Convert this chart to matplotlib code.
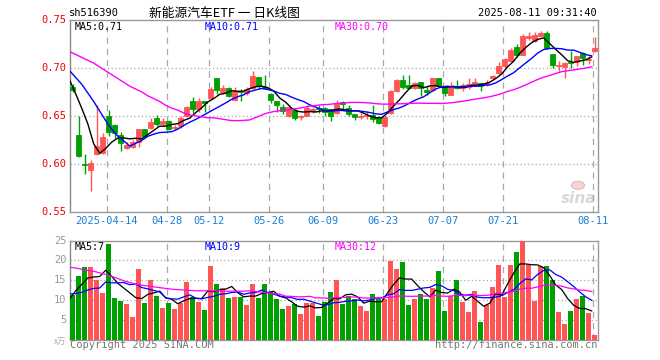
import matplotlib
matplotlib.use('Agg')
import matplotlib.pyplot as plt
from matplotlib.patches import Ellipse
import numpy as np

# ---------------- data ----------------
opens = [0.680, 0.630, 0.5995, 0.594, 0.610, 0.611, 0.650, 0.640, 0.630, 0.616,
         0.618, 0.623, 0.636, 0.637, 0.648, 0.642, 0.645, 0.637, 0.639, 0.650,
         0.666, 0.657, 0.665, 0.669, 0.689, 0.675, 0.679, 0.667, 0.676, 0.674,
         0.679, 0.691, 0.680, 0.673, 0.665, 0.659, 0.650, 0.656, 0.649, 0.650,
         0.655, 0.658, 0.658, 0.657, 0.653, 0.664, 0.658, 0.652, 0.649, 0.6496,
         0.651, 0.649, 0.639, 0.653, 0.676, 0.687, 0.682, 0.679, 0.685, 0.677,
         0.677, 0.689, 0.681, 0.672, 0.681, 0.679, 0.680, 0.683, 0.684, 0.683,
         0.689, 0.695, 0.702, 0.707, 0.722, 0.714, 0.7317, 0.728, 0.7335, 0.736,
         0.715, 0.7025, 0.701, 0.706, 0.706, 0.716, 0.708, 0.718]
highs = [0.683, 0.650, 0.610, 0.604, 0.661, 0.632, 0.656, 0.641, 0.633, 0.623,
         0.625, 0.636, 0.636, 0.648, 0.651, 0.648, 0.646, 0.640, 0.650, 0.660,
         0.670, 0.669, 0.666, 0.680, 0.689, 0.682, 0.680, 0.680, 0.678, 0.680,
         0.697, 0.691, 0.693, 0.674, 0.665, 0.662, 0.661, 0.657, 0.651, 0.661,
         0.659, 0.661, 0.659, 0.657, 0.667, 0.665, 0.661, 0.652, 0.653, 0.655,
         0.661, 0.650, 0.651, 0.677, 0.688, 0.693, 0.693, 0.685, 0.685, 0.681,
         0.690, 0.689, 0.681, 0.685, 0.687, 0.684, 0.690, 0.690, 0.684, 0.687,
         0.693, 0.706, 0.710, 0.721, 0.725, 0.735, 0.737, 0.737, 0.739, 0.739,
         0.715, 0.707, 0.706, 0.718, 0.7125, 0.7165, 0.7125, 0.732]
lows = [0.675, 0.607, 0.589, 0.572, 0.609, 0.610, 0.629, 0.627, 0.613, 0.615,
        0.616, 0.618, 0.628, 0.636, 0.639, 0.639, 0.635, 0.635, 0.637, 0.649,
        0.653, 0.654, 0.654, 0.668, 0.673, 0.673, 0.670, 0.666, 0.666, 0.672,
        0.678, 0.678, 0.678, 0.663, 0.654, 0.652, 0.649, 0.646, 0.646, 0.650,
        0.653, 0.653, 0.650, 0.645, 0.652, 0.657, 0.650, 0.646, 0.647, 0.647,
        0.644, 0.642, 0.638, 0.652, 0.675, 0.678, 0.678, 0.678, 0.671, 0.672,
        0.676, 0.680, 0.671, 0.672, 0.678, 0.676, 0.678, 0.681, 0.676, 0.681,
        0.688, 0.693, 0.700, 0.706, 0.711, 0.713, 0.729, 0.727, 0.733, 0.720,
        0.700, 0.697, 0.689, 0.700, 0.702, 0.703, 0.704, 0.717]
closes = [0.677, 0.608, 0.599, 0.601, 0.619, 0.628, 0.633, 0.632, 0.622, 0.620,
          0.623, 0.636, 0.629, 0.644, 0.642, 0.645, 0.636, 0.638, 0.648, 0.659,
          0.657, 0.665, 0.663, 0.678, 0.677, 0.679, 0.671, 0.676, 0.675, 0.678,
          0.692, 0.681, 0.679, 0.667, 0.661, 0.655, 0.659, 0.648, 0.650, 0.658,
          0.657, 0.657, 0.654, 0.650, 0.663, 0.662, 0.652, 0.649, 0.6500, 0.651,
          0.647, 0.643, 0.649, 0.676, 0.687, 0.680, 0.679, 0.684, 0.679, 0.675,
          0.689, 0.681, 0.674, 0.681, 0.679, 0.682, 0.683, 0.685, 0.681, 0.6845,
          0.692, 0.702, 0.709, 0.719, 0.713, 0.733, 0.7328, 0.734, 0.736, 0.721,
          0.703, 0.703, 0.7055, 0.705, 0.7125, 0.710, 0.709, 0.721]
volumes = [11.3, 16.1, 18.4, 18.4, 15.1, 11.9, 24.0, 10.6, 9.9, 9.1,
           5.9, 17.9, 9.4, 15.1, 11.1, 8.1, 9.4, 7.8, 9.4, 14.7,
           10.9, 9.7, 7.6, 18.6, 14.1, 13.1, 10.7, 10.9, 10.9, 8.8,
           14.1, 10.7, 14.1, 12.1, 10.4, 7.9, 8.6, 9.1, 6.6, 9.4,
           9.4, 6.1, 9.6, 12.1, 15.1, 9.1, 11.1, 10.4, 8.6, 7.3,
           11.6, 10.4, 10.4, 19.9, 17.9, 19.6, 8.9, 10.4, 11.6, 10.4,
           13.1, 17.4, 7.3, 11.0, 15.1, 9.6, 7.1, 12.4, 4.6, 8.9,
           13.4, 18.9, 10.8, 18.9, 22.1, 24.9, 18.9, 9.9, 18.6, 18.6,
           15.1, 7.1, 4.1, 7.3, 10.3, 11.1, 6.8, 1.3]

# moving-average values at the start of the window (they depend on earlier days)
ma5_head = [0.687, 0.673, 0.658, 0.642]
ma10_head = [0.697, 0.690, 0.683, 0.674, 0.665, 0.655, 0.645, 0.636, 0.629]
ma30_head = [0.717, 0.714, 0.711, 0.708, 0.705, 0.701, 0.697, 0.693, 0.689, 0.685,
             0.681, 0.678, 0.675, 0.671, 0.668, 0.665, 0.661, 0.658, 0.656, 0.653,
             0.651, 0.650, 0.649, 0.648, 0.648, 0.647, 0.646, 0.645, 0.645]
vma5_head = [10.4, 12.4, 14.0, 15.6]
vma10_head = [11.6, 11.7, 12.0, 12.6, 13.0, 13.1, 14.6, 14.4, 14.4]
vma30_head = [18.3, 18.1, 17.8, 17.5, 17.3, 16.9, 16.5, 16.0, 15.5, 14.9,
              14.5, 14.1, 13.8, 13.6, 13.4, 13.2, 13.0, 12.8, 12.7, 12.6,
              12.5, 12.4, 12.4, 12.4, 12.4, 12.4, 12.3, 12.3, 12.3]

tick_idx = [6, 16, 23, 33, 42, 52, 62, 72, 87]
tick_labels = ['2025-04-14', '04-28', '05-12', '05-26', '06-09', '06-23',
               '07-07', '07-21', '08-11']
price_ticks = [0.55, 0.60, 0.65, 0.70, 0.75]
vol_ticks = [5, 10, 15, 20, 25]

price_legend = ['MA5:0.71', 'MA10:0.71', 'MA30:0.70']
vol_legend = ['MA5:7', 'MA10:9', 'MA30:12']


def moving_avg(vals, n, head):
    vals = np.asarray(vals, float)
    out = np.empty(len(vals))
    out[:len(head)] = head
    for k in range(len(head), len(vals)):
        out[k] = vals[k - n + 1:k + 1].mean()
    return out


# ---------------- styling ----------------
RED = '#ff5555'
GREEN = '#00a000'
GRID = '#a8a8a8'
MONO = 'DejaVu Sans Mono'
W, H = 660, 360

fig = plt.figure(figsize=(6.6, 3.6), dpi=100)
fig.patch.set_facecolor('white')


def fx(px):
    return px / W


def fy(py):
    return 1 - py / H


ax = fig.add_axes([fx(70), fy(211.7), fx(597.7) - fx(70), fy(20) - fy(211.7)])
axv = fig.add_axes([fx(70), fy(340.3), fx(597.7) - fx(70), fy(240.5) - fy(340.3)])

n = len(closes)
xs = np.arange(n)
o = np.array(opens)
c = np.array(closes)
h = np.array(highs)
l = np.array(lows)
v = np.array(volumes)
up = c >= o
colors = [RED if u else GREEN for u in up]

# watermark (behind everything in the price panel)
ax.text(87.2, 0.5635, 'sina', color='#d8d8d8', fontsize=11, fontweight='bold',
        style='italic', ha='right', va='center', zorder=0)
ax.add_patch(Ellipse((84.2, 0.5775), 2.2, 0.0085, facecolor='#f4d4d4',
                     edgecolor='#eab8b8', lw=0.8, zorder=0))

# candles
ax.vlines(xs, l, h, colors=colors, linewidth=1.0, zorder=3)
body_bottom = np.minimum(o, c)
body_height = np.abs(c - o)
ax.bar(xs, body_height, bottom=body_bottom, width=0.82, color=colors,
       edgecolor=colors, linewidth=0.6, zorder=4)

# moving averages (drawn at the left edge of each day's slot)
mx = xs - 0.5
ax.plot(mx, moving_avg(c, 5, ma5_head), color='black', lw=1.0, zorder=5)
ax.plot(mx, moving_avg(c, 10, ma10_head), color='#0000ff', lw=1.0, zorder=5)
ax.plot(mx, moving_avg(c, 30, ma30_head), color='#ff00ff', lw=1.0, zorder=5)

# volume
axv.bar(xs, v, width=0.82, color=colors, linewidth=0, zorder=3)
axv.plot(mx, moving_avg(v, 5, vma5_head), color='black', lw=0.9, zorder=5)
axv.plot(mx, moving_avg(v, 10, vma10_head), color='#0000ff', lw=0.9, zorder=5)
axv.plot(mx, moving_avg(v, 30, vma30_head), color='#ff00ff', lw=0.9, zorder=5)

grid_x = np.array(tick_idx) - 0.35
for a in (ax, axv):
    a.set_xlim(-0.45, 87.5)
    for gx in grid_x:
        a.axvline(gx, color=GRID, lw=0.9, ls=(0, (5, 4)), zorder=1)
    a.set_xticks([])
    a.tick_params(length=0)
    for s in a.spines.values():
        s.set_color('#999999')
        s.set_linewidth(1.0)
    a.spines['left'].set_color('#888888')

ax.set_ylim(0.55, 0.75)
ax.set_yticks([])
for pt in price_ticks[1:-1]:
    ax.axhline(pt, color=GRID, lw=0.9, ls=(0, (1, 2)), zorder=1)
for pt in price_ticks:
    fig.text(fx(66.5), fy(211.7 - (pt - 0.55) / 0.20 * 191.7), '%.2f' % pt,
             color='#ee0000', fontsize=7.5, family=MONO, ha='right', va='center')

axv.set_ylim(0, 25)
axv.set_yticks([])
for vt in vol_ticks[:-1]:
    axv.axhline(vt, color=GRID, lw=0.9, ls=(0, (1, 2)), zorder=1)
for vt in vol_ticks:
    fig.text(fx(66.5), fy(340.3 - vt / 25 * 99.8), '%d' % vt,
             color='#999999', fontsize=7.5, family=MONO, ha='right', va='center')
fig.text(fx(66), fy(341), 'x万', color='#aaaaaa', fontsize=6,
         family=['Noto Sans CJK SC', 'DejaVu Sans'], ha='right', va='center')

# x tick labels
for ti, lab in zip(grid_x, tick_labels):
    px = 72.7 + 6 * ti
    fig.text(fx(px), fy(221), lab, color='#1a7fd4', fontsize=7.5, family=MONO,
             ha='center', va='center')

# legends
leg_x = [75, 205, 335]
leg_c = ['black', '#0000ff', '#ff00ff']
for lx, txt, col in zip(leg_x, price_legend, leg_c):
    fig.text(fx(lx), fy(26.5), txt, color=col, fontsize=7.2, family=MONO,
             ha='left', va='center')
for lx, txt, col in zip(leg_x, vol_legend, leg_c):
    fig.text(fx(lx), fy(246.5), txt, color=col, fontsize=7.2, family=MONO,
             ha='left', va='center')

# header
fig.text(fx(69), fy(13), 'sh516390', color='black', fontsize=7.5, family=MONO,
         ha='left', va='center')
fig.text(fx(149), fy(13), '新能源汽车ETF 一 日K线图', color='black', fontsize=9.2,
         family=['Noto Sans CJK SC', 'DejaVu Sans'], ha='left', va='center')
fig.text(fx(597), fy(13), '2025-08-11 09:31:40', color='black', fontsize=7.5,
         family=MONO, ha='right', va='center')

# footer
fig.text(fx(70), fy(345.5), 'Copyright 2025 SINA.COM', color='#777777',
         fontsize=7.5, family=MONO, ha='left', va='center')
fig.text(fx(597), fy(345.5), 'http://finance.sina.com.cn', color='#777777',
         fontsize=7.5, family=MONO, ha='right', va='center')

fig.savefig('out.png', dpi=100, facecolor='white')
